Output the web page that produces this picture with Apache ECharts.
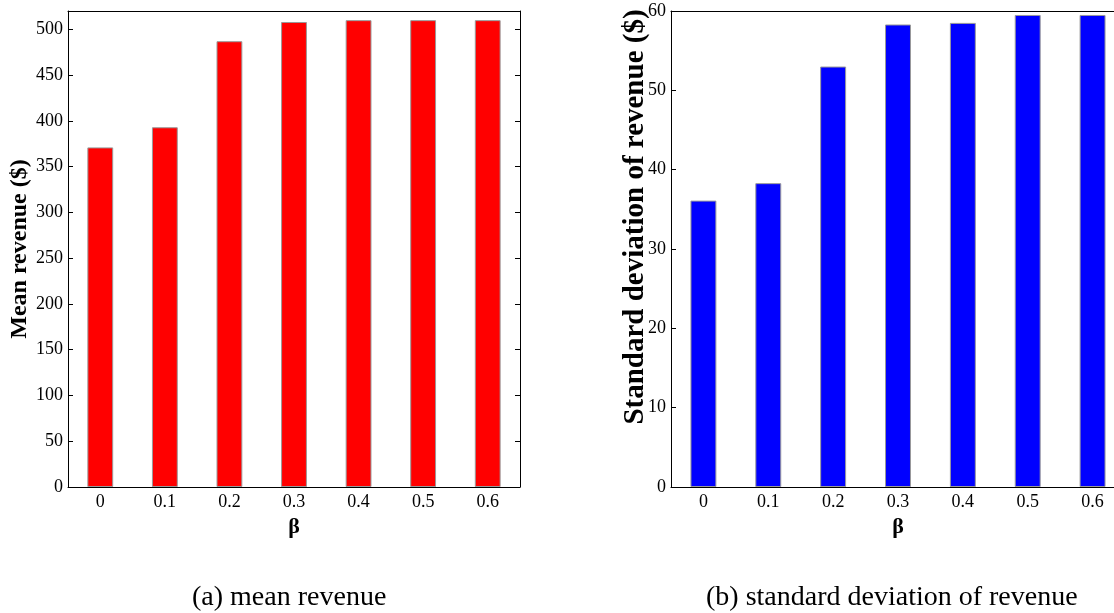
<!DOCTYPE html>
<html>
<head>
<meta charset="utf-8">
<script src="https://cdn.jsdelivr.net/npm/echarts@6/dist/echarts.min.js"></script>
<style>
html,body{margin:0;padding:0;background:#fff;}
#main{width:1114px;height:613px;}
</style>
</head>
<body>
<div id="main"></div>
<script>
// ---- data ----
const betaCategories = ['0', '0.1', '0.2', '0.3', '0.4', '0.5', '0.6'];
const meanRevenue = [371, 393, 487, 508, 510, 510, 510];
const stdRevenue = [36.1, 38.3, 53.0, 58.3, 58.5, 59.5, 59.5];
const captionA = '(a) mean revenue';
const captionB = '(b) standard deviation of revenue';
const yNameA = 'Mean revenue ($)';
const yNameB = 'Standard deviation of revenue ($)';
const xName = 'β';

const chart = echarts.init(document.getElementById('main'));
const serif = 'Liberation Serif';
const labelStyle = { fontFamily: serif, fontSize: 18, color: '#000' };
const lineStyle = { color: '#000', width: 1 };

function xAxes(gridIndex) {
  return [
    {
      type: 'category', gridIndex, position: 'bottom', data: betaCategories,
      axisLine: { onZero: false, lineStyle },
      axisTick: { inside: true, alignWithLabel: true, length: 4, lineStyle },
      axisLabel: Object.assign({ margin: 6 }, labelStyle),
      name: xName, nameLocation: 'middle', nameGap: 24,
      nameTextStyle: { fontFamily: serif, fontSize: 22, fontWeight: 'bold', color: '#000' }
    },
    {
      type: 'category', gridIndex, position: 'top', data: betaCategories,
      axisLine: { onZero: false, lineStyle },
      axisTick: { inside: true, alignWithLabel: true, length: 4, lineStyle },
      axisLabel: { show: false }
    }
  ];
}
function yAxes(gridIndex, max, interval, name, nameSize, nameGap) {
  return [
    {
      type: 'value', gridIndex, position: 'left', min: 0, max, interval,
      axisLine: { show: true, onZero: false, lineStyle },
      axisTick: { show: true, inside: true, length: 5, lineStyle },
      splitLine: { show: false },
      axisLabel: Object.assign({ margin: 5, showMaxLabel: max % interval === 0 }, labelStyle),
      name, nameLocation: 'middle', nameGap,
      nameTextStyle: { fontFamily: serif, fontSize: nameSize, fontWeight: 'bold', color: '#000' }
    },
    {
      type: 'value', gridIndex, position: 'right', min: 0, max, interval,
      axisLine: { show: true, onZero: false, lineStyle },
      axisTick: { show: true, inside: true, length: 5, lineStyle },
      splitLine: { show: false },
      axisLabel: { show: false }
    }
  ];
}

const option = {
  animation: false,
  backgroundColor: '#fff',
  grid: [
    { left: 68, top: 11, width: 452, height: 476, containLabel: false, outerBoundsMode: 'none' },
    { left: 671, top: 11, width: 454, height: 476, containLabel: false, outerBoundsMode: 'none' }
  ],
  xAxis: [...xAxes(0), ...xAxes(1)],
  yAxis: [...yAxes(0, 520, 50, yNameA, 24, 32), ...yAxes(1, 60, 10, '', 28, 22)],
  series: [
    {
      type: 'bar', xAxisIndex: 0, yAxisIndex: 0, data: meanRevenue, barWidth: '40%',
      itemStyle: { color: '#ff0000', borderColor: '#999', borderWidth: 1 }
    },
    {
      type: 'bar', xAxisIndex: 2, yAxisIndex: 2, data: stdRevenue, barWidth: '40%',
      itemStyle: { color: '#0000ff', borderColor: '#999', borderWidth: 1 }
    }
  ],
  graphic: [
    { type: 'text', x: 636, y: 217, rotation: Math.PI / 2,
      style: { text: yNameB, font: 'bold 29px "Liberation Serif"', fill: '#000', align: 'center', verticalAlign: 'middle' } },
    { type: 'text', left: 192, top: 584, style: { text: captionA, font: '28px "Liberation Serif"', fill: '#000' } },
    { type: 'text', left: 706, top: 584, style: { text: captionB, font: '28px "Liberation Serif"', fill: '#000' } }
  ]
};
chart.setOption(option);
</script>
</body>
</html>
